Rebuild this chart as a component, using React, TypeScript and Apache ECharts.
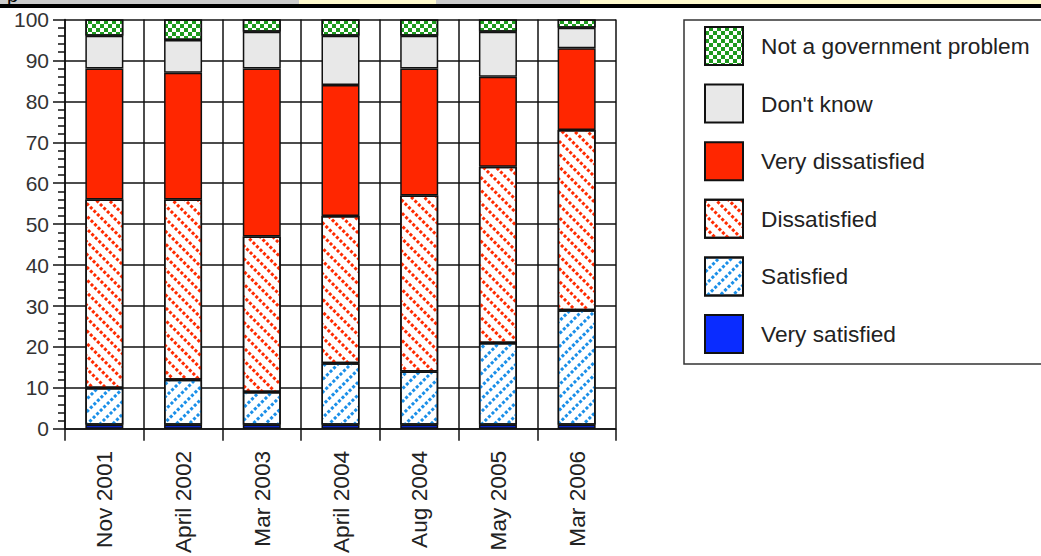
import React, { useEffect, useRef } from "react";
import * as echarts from "echarts";

const categories = ["Nov 2001", "April 2002", "Mar 2003", "April 2004", "Aug 2004", "May 2005", "Mar 2006"];
const verySatisfied = [1, 1, 1, 1, 1, 1, 1];
const satisfied = [9, 11, 8, 15, 13, 20, 28];
const dissatisfied = [46, 44, 38, 36, 43, 43, 44];
const veryDissatisfied = [32, 31, 41, 32, 31, 22, 20];
const dontKnow = [8, 8, 9, 12, 8, 11, 5];
const notGovProblem = [4, 5, 3, 4, 4, 3, 2];
const yTicks = [0, 10, 20, 30, 40, 50, 60, 70, 80, 90, 100];

const FONT = "'Liberation Sans', Arial, Helvetica, sans-serif";

export default function App() {
  const ref = useRef<HTMLDivElement>(null);
  useEffect(() => {
    if (!ref.current) return;
    const chart = echarts.init(ref.current, undefined, { renderer: "svg" });
    const border = { borderColor: "#111", borderWidth: 1.5 };
    const mk = (name: string, data: number[], itemStyle: any) => ({
      name,
      type: "bar",
      stack: "total",
      barWidth: 38,
      data,
      itemStyle: { ...border, ...itemStyle },
      emphasis: { disabled: true },
    });
    chart.setOption({
      animation: false,
      textStyle: { fontFamily: FONT },
      graphic: [
        { type: "rect", shape: { x: 0, y: 0, width: 299, height: 4 }, style: { fill: "#cccccc" }, z: 0 },
        { type: "rect", shape: { x: 299, y: 0, width: 137, height: 4 }, style: { fill: "#fffacd" }, z: 0 },
        { type: "rect", shape: { x: 436, y: 0, width: 144, height: 4 }, style: { fill: "#cccccc" }, z: 0 },
        { type: "rect", shape: { x: 580, y: 0, width: 461, height: 4 }, style: { fill: "#fffacd" }, z: 0 },
        { type: "rect", shape: { x: 0, y: 4, width: 1041, height: 4 }, style: { fill: "#000" }, z: 1 },
        { type: "text", x: 6, y: -15, style: { text: "p", font: "20px 'DejaVu Serif', serif", fill: "#000" }, z: 1 },
        {
          type: "rect",
          shape: { x: 684, y: 20, width: 400, height: 344 },
          style: { fill: "#fff", stroke: "#333", lineWidth: 1.5 },
          z: 0,
        },
      ],
      legend: {
        orient: "vertical",
        left: 704,
        top: 26,
        padding: 0,
        itemWidth: 38,
        itemHeight: 38,
        itemGap: 17.6,
        icon: "rect",
        selectedMode: false,
        data: ["Not a government problem", "Don't know", "Very dissatisfied", "Dissatisfied", "Satisfied", "Very satisfied"],
        textStyle: { fontSize: 22.7, color: "#222", fontFamily: FONT, padding: [0, 0, 0, 13] },
      },
      grid: { left: 65, top: 19.5, right: 425, bottom: 122, containLabel: false },
      xAxis: {
        type: "category",
        data: categories,
        boundaryGap: true,
        axisLine: { lineStyle: { color: "#111", width: 1.5 } },
        axisTick: { show: true, length: 12, interval: 0, lineStyle: { color: "#111", width: 1.5 } },
        splitLine: { show: true, interval: 0, lineStyle: { color: "#111", width: 1.5 } },
        axisLabel: { rotate: 90, interval: 0, margin: 22, fontSize: 22.7, color: "#222", fontFamily: FONT },
      },
      yAxis: {
        type: "value",
        min: yTicks[0],
        max: yTicks[yTicks.length - 1],
        interval: 10,
        axisLine: { show: true, lineStyle: { color: "#111", width: 1.5 } },
        axisTick: { show: true, length: 12, lineStyle: { color: "#111", width: 1.5 } },
        minorTick: { show: true, splitNumber: 5, length: 7, lineStyle: { color: "#111", width: 1.5 } },
        splitLine: { show: true, lineStyle: { color: "#111", width: 1.5 } },
        axisLabel: { margin: 16, fontSize: 21, color: "#333", fontFamily: FONT },
      },
      series: [
        mk("Very satisfied", verySatisfied, { color: "#0a2cff" }),
        mk("Satisfied", satisfied, {
          color: "#ffffff",
          decal: {
            symbol: "rect",
            symbolSize: 1,
            color: "#1a8fe8",
            dashArrayX: [3, 2],
            dashArrayY: [2.5, 5.5],
            rotation: -Math.PI / 4,
          },
        }),
        mk("Dissatisfied", dissatisfied, {
          color: "#ffffff",
          decal: {
            symbol: "rect",
            symbolSize: 1,
            color: "#ff2a00",
            dashArrayX: [3, 2],
            dashArrayY: [2.5, 5.5],
            rotation: Math.PI / 4,
          },
        }),
        mk("Very dissatisfied", veryDissatisfied, { color: "#ff2600" }),
        mk("Don't know", dontKnow, { color: "#e8e8e8" }),
        mk("Not a government problem", notGovProblem, {
          color: "#ffffff",
          decal: {
            symbol: "rect",
            symbolSize: 1,
            color: "#1e9a1e",
            dashArrayX: [[4, 4], [0, 4, 4, 0]],
            dashArrayY: [4, 0],
            rotation: 0,
          },
        }),
      ],
    });
    return () => chart.dispose();
  }, []);
  return (
    <div
      ref={ref}
      style={{ position: "fixed", left: 0, top: 0, width: 1041, height: 556, background: "#fff" }}
    />
  );
}
